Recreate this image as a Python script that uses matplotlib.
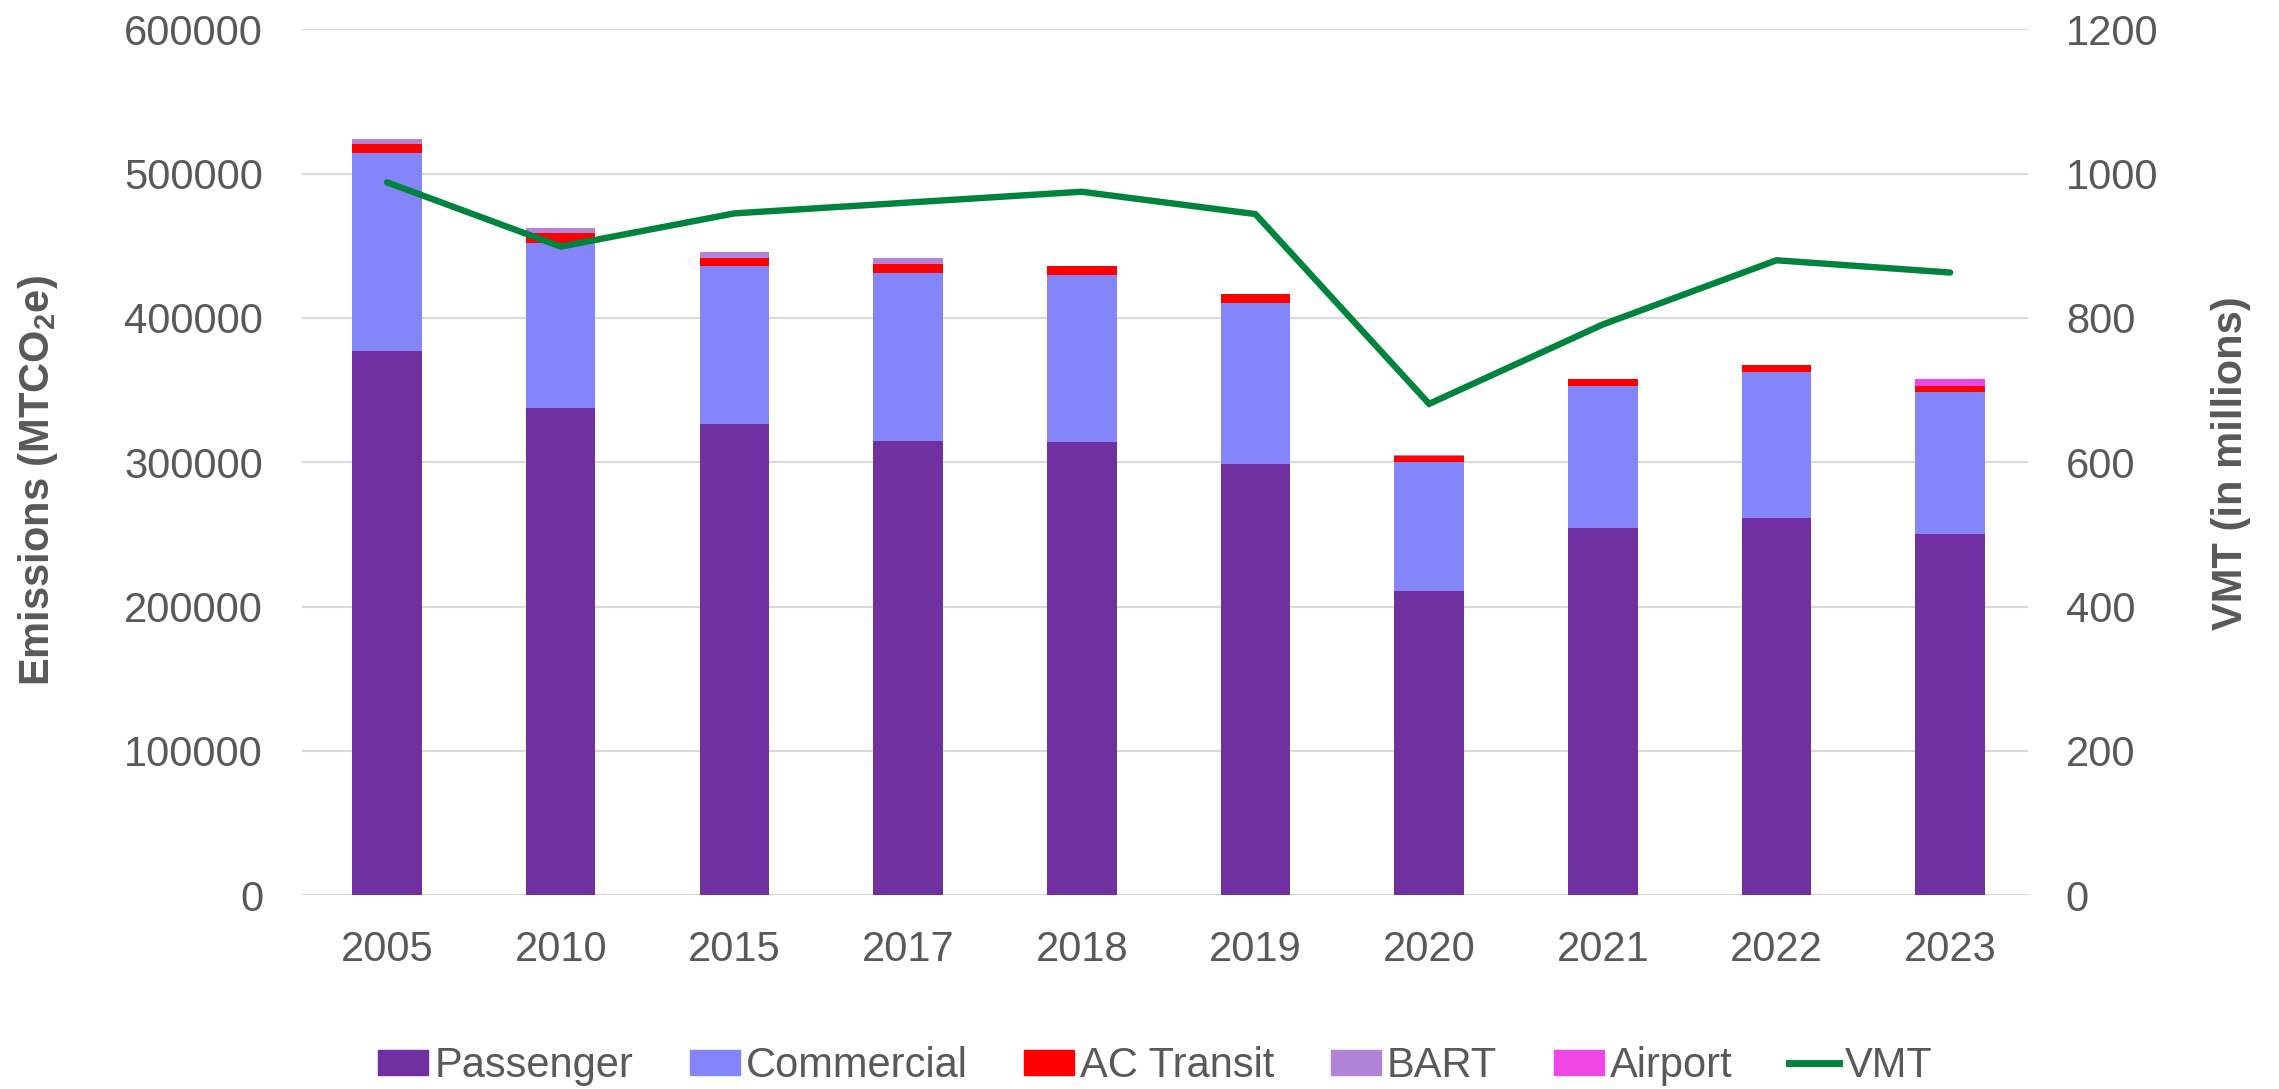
import numpy as np
from matplotlib import pyplot as plt
from matplotlib.patches import Patch
from matplotlib.lines import Line2D

years = ['2005', '2010', '2015', '2017', '2018', '2019', '2020', '2021', '2022', '2023']
passenger = [377400, 337900, 326300, 315000, 314300, 298700, 210900, 254500, 261200, 250300]
commercial = [136700, 114300, 109700, 115900, 115500, 111500, 89100, 98400, 101400, 98400]
ac_transit = [6400, 6500, 5600, 6300, 6000, 6400, 4400, 4800, 4800, 4200]
bart = [3500, 3400, 4100, 4400, 500, 300, 300, 300, 0, 0]
airport = [0, 0, 0, 0, 0, 0, 0, 0, 0, 4800]
vmt = [988, 899, 945, 960, 975, 944, 681, 791, 880, 863]

series = [('Passenger', passenger, '#7030A0'),
          ('Commercial', commercial, '#8585FA'),
          ('AC Transit', ac_transit, '#FF0000'),
          ('BART', bart, '#B383D9'),
          ('Airport', airport, '#EE47E6')]
grey = '#595959'
green = '#00843D'

plt.rcParams['font.family'] = ['Liberation Sans', 'DejaVu Sans']
plt.rcParams['mathtext.default'] = 'regular'

fig = plt.figure(figsize=(22.79, 10.89), dpi=100)
ax = fig.add_axes([0.1325, 0.178, 0.7575, 0.795])
ax2 = ax.twinx()

x = np.arange(len(years))
bottom = np.zeros(len(years))
for name, vals, col in series:
	ax.bar(x, vals, 0.4, bottom=bottom, color=col, label=name, zorder=2)
	bottom += np.array(vals)

ax2.plot(x, vmt, color=green, lw=4.6, solid_capstyle='round', solid_joinstyle='miter', zorder=3)

ax.set_xlim(-0.49, 9.45)
ax.set_ylim(0, 600000)
ax.set_yticks(range(0, 600001, 100000))
ax2.set_ylim(0, 1200)
ax2.set_yticks(range(0, 1201, 200))
ax.set_xticks(x)
ax.set_xticklabels(years)
ax.yaxis.grid(True, color='#D9D9D9', lw=1.5, zorder=0)
ax.set_axisbelow(True)
ax.set_zorder(ax2.get_zorder() - 1)
ax.patch.set_visible(False)

for a in (ax, ax2):
	for s in a.spines.values():
		s.set_visible(False)
	a.tick_params(length=0, labelsize=30, labelcolor=grey)
ax.tick_params(axis='x', pad=25)
ax.tick_params(axis='y', pad=28)
ax2.tick_params(axis='y', pad=27)

tfont = dict(fontsize=30, fontweight='bold', color=grey)
fig.text(0.0167, 0.559, 'Emissions (MTCO$_2$e)', rotation=90, ha='center', va='center', **tfont)
fig.text(0.979, 0.575, 'VMT (in millions)', rotation=90, ha='center', va='center', **tfont)

handles = [Patch(color=col) for _, _, col in series]
handles.append(Line2D([0], [0], color=green, lw=5))
labels = [name for name, _, _ in series] + ['VMT']
fig.legend(handles, labels, loc='center', bbox_to_anchor=(0.507, 0.021), ncol=6,
	frameon=False, fontsize=30, labelcolor=grey, handlelength=1.2, handleheight=0.55,
	handletextpad=0.15, columnspacing=1.35)

fig.savefig('out.png', dpi=100)
